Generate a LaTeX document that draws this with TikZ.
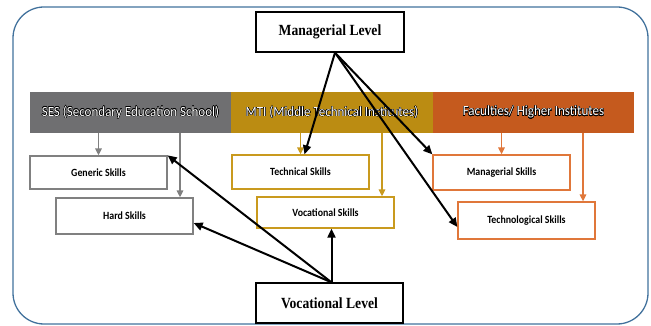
\documentclass[tikz,border=0pt]{standalone}
\usepackage{fontspec}
\setmainfont{Carlito}
\newfontfamily\timesfont{Liberation Serif}
\usepackage{contour}
\contourlength{0.4pt}
\usetikzlibrary{arrows.meta,calc}
\definecolor{framblue}{HTML}{41719C}
\definecolor{sesgray}{HTML}{6F6F71}
\definecolor{mtigold}{HTML}{BB8C12}
\definecolor{facorange}{HTML}{C55A1E}
\definecolor{goldline}{HTML}{C99A1E}
\definecolor{orangeline}{HTML}{E0773A}
\definecolor{grayline}{HTML}{808080}
\newcommand{\bandtxt}[1]{\scalebox{0.93}[1]{\contour{black}{#1}}}
\newcommand{\skilltxt}[1]{\scalebox{0.9}[1]{#1}}
\newcommand{\leveltxt}[1]{\scalebox{0.88}[1]{#1}}
\tikzset{
  band/.style={rectangle, inner sep=0pt, minimum height=41pt, text=white, font=\fontsize{14}{16}\selectfont},
  skill/.style={rectangle, draw, fill=white, line width=1.3pt, inner sep=0pt, minimum width=137pt, font=\bfseries\fontsize{11}{13}\selectfont},
  level/.style={rectangle, draw=black, fill=white, line width=1.3pt, inner sep=0pt, minimum width=148pt, minimum height=40pt, font=\timesfont\bfseries\fontsize{15.5}{17}\selectfont},
  colarrow/.style={line width=1.5pt, -{Triangle[length=7pt,width=6.5pt]}},
  blkarrow/.style={line width=2pt, black, -{Triangle[length=9pt,width=8pt]}}
}
\begin{document}
\begin{tikzpicture}[x=1pt,y=-1pt]
\useasboundingbox (0,0) rectangle (651,326);
\draw[framblue, line width=1.3pt, rounded corners=31pt] (13,7) rectangle (648,324);
% bands
\node[band, fill=sesgray, minimum width=201pt] (ses) at (130.5,112.5) {\bandtxt{SES (Secondary Education School)}};
\node[band, fill=mtigold, minimum width=202pt] (mti) at (332,112.5) {\bandtxt{MTI (Middle Technical Institutes)}};
\node[band, fill=facorange, minimum width=201pt] (fac) at (533.5,112.5) {\bandtxt{Faculties/ Higher Institutes}};
% skill boxes
\node[skill, draw=grayline, minimum height=33pt] (gen) at (98.5,172.5) {\skilltxt{Generic Skills}};
\node[skill, draw=grayline, minimum height=36pt] (hard) at (124.5,216) {\skilltxt{Hard Skills}};
\node[skill, draw=goldline, minimum height=34pt] (tech) at (300.5,172) {\skilltxt{Technical Skills}};
\node[skill, draw=goldline, minimum height=31pt] (voc) at (325.5,212.5) {\skilltxt{Vocational Skills}};
\node[skill, draw=orangeline, minimum height=35pt] (mans) at (501.5,172.5) {\skilltxt{Managerial Skills}};
\node[skill, draw=orangeline, minimum height=37pt] (techno) at (526.5,220.5) {\skilltxt{Technological Skills}};
% levels
\node[level] (ml) at (330,32) {\leveltxt{Managerial Level}};
\node[level, minimum width=147pt] (vl) at (329.5,303) {\leveltxt{Vocational Level}};
% helper x positions
\coordinate (xh) at (180,0);
\coordinate (xv) at (382,0);
\coordinate (xt) at (583,0);
% coloured arrows
\draw[colarrow, grayline] (ses.south -| gen.north) -- (gen.north);
\draw[colarrow, grayline] (ses.south -| xh) -- (hard.north -| xh);
\draw[colarrow, goldline] (mti.south -| tech.north) -- (tech.north);
\draw[colarrow, goldline] (mti.south -| xv) -- (voc.north -| xv);
\draw[colarrow, orangeline] (fac.south -| mans.north) -- (mans.north);
\draw[colarrow, orangeline] (fac.south -| xt) -- (techno.north -| xt);
% black arrows
\coordinate (ms) at ($(ml.south)+(5,0)$);
\coordinate (vs) at ($(vl.north)+(2,0)$);
\draw[blkarrow] (ms) -- ($(tech.north)+(4,0)$);
\draw[blkarrow] (ms) -- (mans.north west);
\draw[blkarrow] (ms) -- ($(techno.west)+(0,6.5)$);
\draw[blkarrow] (vs) -- (gen.north east);
\draw[blkarrow] (vs) -- ($(hard.east)+(0,7)$);
\draw[blkarrow] (vs) -- (vs |- voc.south);
\end{tikzpicture}
\end{document}
